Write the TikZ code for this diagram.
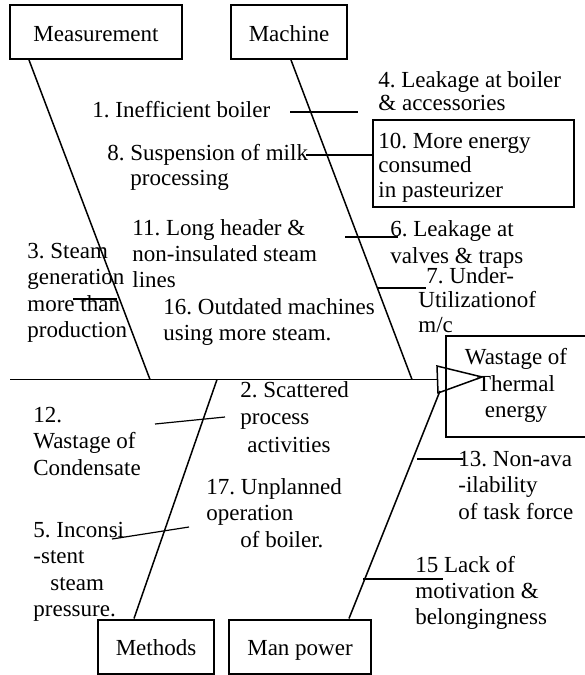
\documentclass[tikz,border=0pt]{standalone}
\usepackage{fontspec}
\setmainfont{Liberation Serif}
\frenchspacing
\newcommand\mlines[1]{\begin{tabular}[t]{@{}l@{}}#1\end{tabular}}
\newcommand\clines[1]{\begin{tabular}[t]{@{}c@{}}#1\end{tabular}}
\begin{document}
\begin{tikzpicture}[x=0.5pt,y=-0.5pt,
  every node/.style={font=\fontsize{11.5}{13.25}\selectfont, inner sep=0pt},
  box/.style={draw, line width=1pt},
  catbox/.style={box, minimum height=27pt, text height=0.9em, text depth=0pt},
  lbl/.style={anchor=base west},
  bone/.style={line width=0.75pt},
  rib/.style={line width=0.6pt}]
\useasboundingbox (0,0) rectangle (584,675);

% category boxes
\node[catbox, minimum width=86pt] (meas) at (96,32) {Measurement};
\node[catbox, minimum width=58pt] (mach) at (289,32) {Machine};
\node[catbox, minimum width=58pt] (meth) at (156,646.5) {Methods};
\node[catbox, minimum width=71pt] (man) at (300,646.5) {Man power};

% effect box (its right edge runs past the picture)
\node[box, minimum width=70pt, minimum height=50.5pt] (eff) at (516,386)
  {\clines{Wastage of\\Thermal\\energy}};

% box 10
\node[box, minimum width=100.5pt, minimum height=43.5pt] (box10) at (473.5,163.5) {};
\node[lbl, font=\fontsize{11.5}{12.25}\selectfont] (t10) at (378,148)
  {\mlines{10. More energy\\consumed\\in pasteurizer}};

% spine and arrow head
\coordinate (spL) at (10,379.5);
\coordinate (spR) at (437,379.5);
\coordinate (aTop) at (437,366);
\coordinate (aBot) at (438,393);
\coordinate (aTip) at (482,377);
\draw[bone] (spL) -- (spR);
\draw[bone, line join=miter] (aTop) -- (aTip) -- (aBot) -- cycle;

% joints on the spine
\coordinate (jMeas) at (150,379.5);
\coordinate (jMach) at (412,379.5);
\coordinate (jMeth) at (217,379.5);
\coordinate (jMan) at (440,391);

% main bones
\draw[bone] ([xshift=10pt]meas.south west) -- (jMeas);
\draw[bone] ([xshift=30.5pt]mach.south west) -- (jMach);
\draw[bone] ([xshift=18.5pt]meth.north west) -- (jMeth);
\draw[bone] ([xshift=60.5pt]man.north west) -- (jMan);

% ribs
\coordinate (r1a) at (290,112); \coordinate (r1b) at (358,112);
\coordinate (r8a) at (306,155);
\coordinate (r6a) at (345,237); \coordinate (r6b) at (398,237);
\coordinate (r7a) at (378,288); \coordinate (r7b) at (426,288);
\coordinate (r3a) at (73,299); \coordinate (r3b) at (117,299);
\coordinate (r2a) at (155,424); \coordinate (r2b) at (225,417);
\coordinate (r5a) at (112,539); \coordinate (r5b) at (189,527);
\coordinate (r13a) at (417,459); \coordinate (r13b) at (463,459);
\coordinate (r15a) at (363,579); \coordinate (r15b) at (443,579);
\draw[rib] (r1a) -- (r1b);
\draw[rib] (r8a) -- (r8a -| box10.west);
\draw[rib] (r6a) -- (r6b);
\draw[rib] (r7a) -- (r7b);
\draw[rib] (r3a) -- (r3b);
\draw[rib] (r2a) -- (r2b);
\draw[rib] (r5a) -- (r5b);
\draw[rib] (r13a) -- (r13b);
\draw[rib] (r15a) -- (r15b);

% cause labels
\node[lbl] (t1) at (92,117) {1. Inefficient boiler};
\node[lbl, font=\fontsize{11.5}{12.5}\selectfont] (t8) at (107,160)
  {\mlines{8. Suspension of milk\\\hspace*{11.5pt}processing}};
\node[lbl, font=\fontsize{11.5}{11.5}\selectfont] (t4) at (378,87)
  {\mlines{4. Leakage at boiler\\\& accessories}};
\node[lbl, font=\fontsize{11.5}{13.5}\selectfont] (t6) at (390,236)
  {\mlines{6. Leakage at\\valves \& traps}};
\node[lbl, font=\fontsize{11.5}{12.25}\selectfont] (t7) at (418,283)
  {\mlines{\hspace*{4pt}7. Under-\\Utilizationof\\m/c}};
\node[lbl, font=\fontsize{11.5}{13}\selectfont] (t11) at (132,235)
  {\mlines{11. Long header \&\\non-insulated steam\\lines}};
\node[lbl, font=\fontsize{11.5}{13}\selectfont] (t16) at (163,314)
  {\mlines{16. Outdated machines\\using more steam.}};
\node[lbl] (t3) at (27,258)
  {\mlines{3. Steam\\generation\\more than\\production}};
\node[lbl] (t12) at (33,422)
  {\mlines{12.\\Wastage of\\Condensate}};
\node[lbl, font=\fontsize{11.5}{13.75}\selectfont] (t2) at (240,397)
  {\mlines{2. Scattered\\process\\\hspace*{3.5pt}activities}};
\node[lbl] (t17) at (206,494)
  {\mlines{17. Unplanned\\operation\\\hspace*{17pt}of boiler.}};
\node[lbl] (t5) at (33,537)
  {\mlines{5. Inconsi\\-stent\\\hspace*{8.5pt}steam\\pressure.}};
\node[lbl] (t13) at (458,466)
  {\mlines{13. Non-ava\\-ilability\\of task force}};
\node[lbl, font=\fontsize{11.5}{13}\selectfont] (t15) at (415,572)
  {\mlines{15 Lack of\\motivation \&\\belongingness}};
\end{tikzpicture}
\end{document}
